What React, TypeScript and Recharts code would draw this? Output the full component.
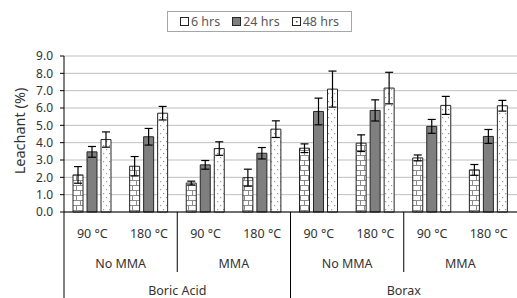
import React from 'react';
import { BarChart, Bar, XAxis, YAxis, CartesianGrid, ErrorBar } from 'recharts';

const temps = ['90 °C', '180 °C', '90 °C', '180 °C', '90 °C', '180 °C', '90 °C', '180 °C'];
const additives = ['No MMA', 'No MMA', 'MMA', 'MMA', 'No MMA', 'No MMA', 'MMA', 'MMA'];
const salts = ['Boric Acid', 'Boric Acid', 'Boric Acid', 'Boric Acid', 'Borax', 'Borax', 'Borax', 'Borax'];

const hrs6 = [2.14, 2.64, 1.67, 1.98, 3.68, 3.97, 3.12, 2.43];
const err6 = [0.48, 0.56, 0.11, 0.49, 0.25, 0.48, 0.17, 0.31];
const hrs24 = [3.47, 4.34, 2.72, 3.39, 5.8, 5.86, 4.94, 4.36];
const err24 = [0.31, 0.48, 0.25, 0.33, 0.77, 0.61, 0.4, 0.4];
const hrs48 = [4.18, 5.7, 3.66, 4.78, 7.09, 7.15, 6.15, 6.13];
const err48 = [0.44, 0.39, 0.39, 0.48, 1.04, 0.91, 0.52, 0.31];

const seriesNames = ['6 hrs', '24 hrs', '48 hrs'];
const yTicks = [0, 1, 2, 3, 4, 5, 6, 7, 8, 9];

const W = 517;
const H = 298;
const MARGIN = { top: 56, right: 0, bottom: 0, left: 14 };
const Y_W = 50;
const X_H = 86;
const PLOT_L = MARGIN.left + Y_W;
const PLOT_W = W - PLOT_L - MARGIN.right;
const AXIS_Y = H - MARGIN.bottom - X_H;
const BAND = PLOT_W / temps.length;

const FONT = '"Noto Sans", "Open Sans", sans-serif';
const TXT = '#333333';

const data = temps.map((t, i) => ({
  idx: i,
  temp: t,
  h6: hrs6[i],
  e6: err6[i],
  h24: hrs24[i],
  e24: err24[i],
  h48: hrs48[i],
  e48: err48[i],
}));

function spanLen(keyFn: (i: number) => string, i: number) {
  let n = 1;
  while (i + n < temps.length && keyFn(i + n) === keyFn(i)) n++;
  return n;
}

const addKey = (i: number) => salts[i] + '|' + additives[i];
const saltKey = (i: number) => salts[i];

function MultiTick(props: any) {
  const { x, payload } = props;
  const i: number = payload.value;
  const left = x - BAND / 2;
  const els: React.ReactNode[] = [];
  els.push(
    <text key="t" x={x} y={AXIS_Y + 21} textAnchor="middle" dominantBaseline="central"
      fontSize={12.5} fill={TXT} fontFamily={FONT}>{temps[i]}</text>
  );
  const firstAdd = i === 0 || addKey(i) !== addKey(i - 1);
  const firstSalt = i === 0 || saltKey(i) !== saltKey(i - 1);
  if (firstAdd) {
    els.push(
      <line key="l" x1={left} x2={left} y1={AXIS_Y} y2={firstSalt ? H : AXIS_Y + 60}
        stroke="#000" strokeWidth={1} />
    );
    const n = spanLen(addKey, i);
    els.push(
      <text key="a" x={left + (n * BAND) / 2} y={AXIS_Y + 51} textAnchor="middle" dominantBaseline="central"
        fontSize={12.5} fill={TXT} fontFamily={FONT}>{additives[i]}</text>
    );
  }
  if (firstSalt) {
    const n = spanLen(saltKey, i);
    els.push(
      <text key="s" x={left + (n * BAND) / 2} y={AXIS_Y + 78} textAnchor="middle" dominantBaseline="central"
        fontSize={12.5} fill={TXT} fontFamily={FONT}>{salts[i]}</text>
    );
  }
  return <g>{els}</g>;
}

function YLabel() {
  return (
    <text x={19} y={131} transform="rotate(-90 19 131)" textAnchor="middle" dominantBaseline="central"
      fontSize={14.5} fill={TXT} fontFamily={FONT}>Leachant (%)</text>
  );
}

function Patterns() {
  return (
    <svg width={0} height={0} style={{ position: 'absolute' }}>
      <defs>
        <pattern id="p6" patternUnits="userSpaceOnUse" width={8} height={10}>
          <rect x={0} y={0} width={8} height={10} fill="#ffffff" />
          <line x1={0} x2={8} y1={0.5} y2={0.5} stroke="#8c8c8c" strokeWidth={1} />
          <line x1={0} x2={8} y1={5.5} y2={5.5} stroke="#8c8c8c" strokeWidth={1} />
          <line x1={0.5} x2={0.5} y1={0} y2={5} stroke="#8c8c8c" strokeWidth={1} />
          <line x1={4.5} x2={4.5} y1={5} y2={10} stroke="#8c8c8c" strokeWidth={1} />
        </pattern>
        <pattern id="p48" patternUnits="userSpaceOnUse" width={6} height={8}>
          <rect x={0} y={0} width={6} height={8} fill="#ffffff" />
          <rect x={1} y={1} width={1.2} height={1.2} fill="#9a9a9a" />
          <rect x={4} y={5} width={1.2} height={1.2} fill="#9a9a9a" />
        </pattern>
      </defs>
    </svg>
  );
}

const fills = ['url(#p6)', '#7f7f7f', 'url(#p48)'];
const legendFills = ['#ffffff', '#7f7f7f', '#ffffff'];
const keys = ['h6', 'h24', 'h48'];
const errKeys = ['e6', 'e24', 'e48'];

function LegendBox() {
  return (
    <div style={{
      position: 'absolute', left: 167, top: 11, width: 185, height: 21, boxSizing: 'border-box',
      border: '1px solid #a6a6a6', display: 'flex', alignItems: 'center', justifyContent: 'center',
      gap: 12, fontFamily: FONT, fontSize: 12.5, color: '#595959', background: '#fff',
    }}>
      {seriesNames.map((name, k) => (
        <div key={name} style={{ display: 'flex', alignItems: 'center', gap: 2 }}>
          <svg width={9} height={9}>
            <rect x={0.5} y={0.5} width={8} height={8} fill={legendFills[k]} stroke="#262626" strokeWidth={1} />
            {k === 2 ? <rect x={4} y={4} width={1.5} height={1.5} fill="#555" /> : null}
          </svg>
          <span>{name}</span>
        </div>
      ))}
    </div>
  );
}

export default function App() {
  return (
    <div style={{ position: 'absolute', left: 0, top: 0, width: W, height: H, background: '#fff', overflow: 'hidden' }}>
      <Patterns />
      <BarChart width={W} height={H} data={data} margin={MARGIN} barGap={4} barSize={10}>
        <CartesianGrid vertical={false} stroke="#bfbfbf" strokeWidth={1} />
        <XAxis dataKey="idx" type="category" height={X_H} interval={0} tickLine={false}
          axisLine={{ stroke: '#000', strokeWidth: 1 }} tick={<MultiTick />} />
        <YAxis width={Y_W} domain={[0, 9]} ticks={yTicks} interval={0} tickSize={4} tickMargin={7}
          axisLine={{ stroke: '#000' }} tickLine={{ stroke: '#000' }}
          tick={{ fontSize: 12, fill: TXT, fontFamily: FONT }}
          tickFormatter={(v: number) => v.toFixed(1)} />
        {keys.map((k, j) => (
          <Bar key={k} dataKey={k} name={seriesNames[j]} fill={fills[j]} stroke="#262626" strokeWidth={1}
            isAnimationActive={false}>
            <ErrorBar dataKey={errKeys[j]} direction="y" width={4} stroke="#000" strokeWidth={1.2} />
          </Bar>
        ))}
      </BarChart>
      <svg width={W} height={H} style={{ position: 'absolute', left: 0, top: 0, pointerEvents: 'none' }}>
        <YLabel />
      </svg>
      <LegendBox />
    </div>
  );
}
